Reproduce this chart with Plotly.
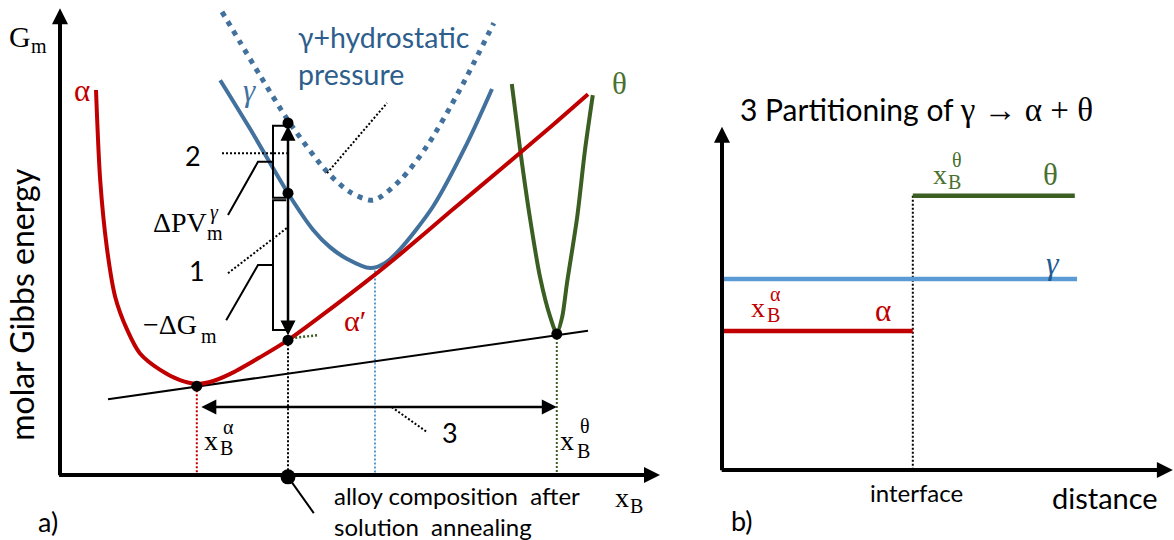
import plotly.graph_objects as go

# ---------------- panel a): molar Gibbs energy vs. composition ----------------
alpha_x = [0.060, 0.067, 0.078, 0.092, 0.112, 0.133, 0.167, 0.200, 0.228, 0.250, 0.283,
           0.333, 0.380, 0.433, 0.525, 0.567, 0.650, 0.733, 0.817, 0.880]
alpha_g = [0.828, 0.634, 0.490, 0.383, 0.312, 0.262, 0.226, 0.204, 0.196, 0.200, 0.217,
           0.253, 0.290, 0.340, 0.431, 0.475, 0.566, 0.656, 0.748, 0.819]

gamma_x = [0.267, 0.317, 0.380, 0.422, 0.450, 0.478, 0.517, 0.542, 0.567, 0.622, 0.678, 0.720]
gamma_g = [0.849, 0.744, 0.606, 0.527, 0.490, 0.465, 0.445, 0.456, 0.486, 0.578, 0.712, 0.830]

gamma_p_x = [0.270, 0.300, 0.333, 0.383, 0.445, 0.483, 0.522, 0.567, 0.612, 0.667, 0.723]
gamma_p_g = [0.996, 0.931, 0.860, 0.757, 0.652, 0.609, 0.591, 0.634, 0.708, 0.830, 0.972]

theta_x = [0.753, 0.767, 0.783, 0.800, 0.817, 0.828, 0.837, 0.845, 0.862, 0.875, 0.888]
theta_g = [0.841, 0.699, 0.555, 0.426, 0.340, 0.305, 0.340, 0.413, 0.555, 0.699, 0.817]

tangent_x = [0.080, 0.880]
tangent_g = [0.163, 0.310]

x_alpha_eq, g_alpha_eq = 0.228, 0.191
x_theta_eq, g_theta_eq = 0.828, 0.303
x_alloy = 0.380
g_alpha_prime, g_gamma_alloy, g_gamma_p_alloy = 0.290, 0.606, 0.757
x_gamma_min, g_gamma_min = 0.525, 0.440

# ---------------- panel b): composition profile across the interface ----------------
interface_pos = 0.424
alpha_dist = [0.0, 0.424]
theta_dist = [0.424, 0.784]
gamma_dist = [0.0, 0.789]
xb_alpha, xb_gamma, xb_theta = 0.302, 0.415, 0.596

# ---------------- styling ----------------
W, H = 1174, 540
RED, BLUE, LBLUE, GREEN = "#C00000", "#41719C", "#5B9BD5", "#3B5E23"
BLUE_TXT, GREEN_TXT = "#2E5E8C", "#4A7030"
SANS, MATH = "Lato", "Liberation Serif"
DOTS = "2px,2px"

fig = go.Figure()


def line(x, y, color, width, dash="solid", ref=("x", "y"), shape="linear"):
    fig.add_trace(go.Scatter(x=x, y=y, mode="lines", xaxis=ref[0], yaxis=ref[1],
                             line=dict(color=color, width=width, dash=dash, shape=shape,
                                       smoothing=0.8),
                             hoverinfo="skip", showlegend=False))


A = ("x", "y")
B = ("x2", "y2")

# drop lines from the tangent points to the composition axis
line([x_alpha_eq, x_alpha_eq], [g_alpha_eq, 0], RED, 2, DOTS)
line([x_alloy, x_alloy], [g_alpha_prime, 0], "black", 2, DOTS)
line([x_gamma_min, x_gamma_min], [g_gamma_min, 0], LBLUE, 2, DOTS)
line([x_theta_eq, x_theta_eq], [g_theta_eq, 0], GREEN, 2, DOTS)

# common tangent and the free-energy curves
line(tangent_x, tangent_g, "black", 2)
line(gamma_p_x, gamma_p_g, BLUE, 5, "5px,6px", shape="spline")
line(gamma_x, gamma_g, BLUE, 4, shape="spline")
line(theta_x, theta_g, GREEN, 4, shape="spline")
line(alpha_x, alpha_g, RED, 4, shape="spline")

# brackets for the two energy contributions
xb_, xt_, xn_ = 0.355, 0.377, 0.330
up_lo, up_hi = g_gamma_alloy - 0.010, g_gamma_p_alloy - 0.006
lo_lo, lo_hi = g_alpha_prime + 0.022, g_gamma_alloy - 0.015
up_mid, lo_mid = (up_lo + up_hi) / 2, (lo_lo + lo_hi) / 2
line([xt_, xb_, xb_, xt_, None, xb_, xn_, 0.280],
     [up_hi, up_hi, up_lo, up_lo, None, up_mid, up_mid, 0.559], "black", 2)
line([xt_, xb_, xb_, xt_, None, xb_, xn_, 0.277],
     [lo_hi, lo_hi, lo_lo, lo_lo, None, lo_mid, lo_mid, 0.333], "black", 2)

# dotted leaders to the numbered labels
line([0.270, 0.378, None, 0.280, 0.378, None, 0.445, 0.545, None, 0.553, 0.612],
     [0.692, 0.692, None, 0.434, 0.531, None, 0.649, 0.800, None, 0.146, 0.092],
     "black", 2, DOTS)
line([0.392, 0.430], [0.295, 0.301], GREEN, 2.5, DOTS)
line([x_alloy, 0.423], [-0.004, -0.082], "black", 2)

# points on the curves
fig.add_trace(go.Scatter(
    x=[x_alpha_eq, x_theta_eq, x_alloy, x_alloy, x_alloy],
    y=[g_alpha_eq, g_theta_eq, g_alpha_prime, g_gamma_alloy, g_gamma_p_alloy],
    mode="markers", marker=dict(color="black", size=11), hoverinfo="skip", showlegend=False))
fig.add_trace(go.Scatter(x=[x_alloy], y=[-0.004], mode="markers",
                         marker=dict(color="black", size=15), hoverinfo="skip",
                         showlegend=False))

# panel b) profiles
line([interface_pos, interface_pos], [xb_theta, 0], "black", 2, DOTS, ref=B)
line(gamma_dist, [xb_gamma, xb_gamma], LBLUE, 4.5, ref=B)
line(alpha_dist, [xb_alpha, xb_alpha], RED, 4.5, ref=B)
line(theta_dist, [xb_theta, xb_theta], GREEN, 4.5, ref=B)

ann = []


def arrow(x0, y0, x1, y1, ref, width, size, both=False):
    ann.append(dict(x=x1, y=y1, ax=x0, ay=y0, xref=ref[0], yref=ref[1],
                    axref=ref[0], ayref=ref[1], text="", showarrow=True,
                    arrowhead=2, arrowsize=size, arrowwidth=width, arrowcolor="black",
                    arrowside="end+start" if both else "end",
                    startarrowhead=2, startarrowsize=size, standoff=0, startstandoff=0))


# axes with arrow heads
arrow(0, -0.004, 0, 1.004, A, 4, 0.8)
arrow(-0.004, 0, 1.0, 0, A, 4, 0.8)
arrow(0, -0.004, 0, 0.746, B, 4, 0.8)
arrow(-0.004, 0, 1.002, 0, B, 4, 0.8)

# double arrows
arrow(x_alloy, g_alpha_prime + 0.007, x_alloy, g_gamma_p_alloy - 0.006, A, 2.5, 1.2, both=True)
arrow(x_alpha_eq + 0.005, 0.146, x_theta_eq, 0.146, A, 2.5, 1.2, both=True)


def text(t, x, y, ref, size, color="black", family=SANS, xanchor="center",
         align="center", angle=0, xshift=0, yshift=0):
    ann.append(dict(x=x, y=y, xref=ref[0], yref=ref[1], text=t, showarrow=False,
                    xanchor=xanchor, yanchor="middle", align=align, textangle=angle,
                    xshift=xshift, yshift=yshift,
                    font=dict(family=family, size=size, color=color)))


def sym(base, sub, sup, x, y, ref, color="black", size=28, dx=15, dy=8, sdx=17, sdy=12):
    text(base, x, y, ref, size, color, MATH)
    if sub:
        text(sub, x, y, ref, 20, color, MATH, xshift=dx, yshift=-dy)
    if sup:
        text(sup, x, y, ref, 20, color, MATH, xshift=sdx, yshift=sdy)


# panel a) labels
sym("G", "m", None, -0.0667, 0.942, A, size=30, dx=19, dy=9)
text("molar Gibbs energy", -0.0633, 0.366, A, 32, angle=-90)
text("a)", -0.02, -0.101, A, 27)
sym("α", None, None, 0.0367, 0.826, A, RED, size=31)
sym("<i>γ</i>", None, None, 0.315, 0.826, A, BLUE, size=31)
text("γ+hydrostatic<br>pressure", 0.393, 0.903, A, 28.5, BLUE_TXT, xanchor="left", align="left")
sym("θ", None, None, 0.932, 0.841, A, GREEN_TXT, size=31)
text("2", 0.222, 0.688, A, 27)
text("1", 0.228, 0.439, A, 27)
sym("ΔPV", "m", "<i>γ</i>", 0.200, 0.544, A, size=28, dx=35, dy=11, sdx=34, sdy=10)
sym("−ΔG", "m", None, 0.183, 0.323, A, size=28, dx=39, dy=11)
sym("α′", None, None, 0.492, 0.333, A, RED, size=30)
sym("x", "B", "α", 0.252, 0.075, A, dx=15, dy=8, sdx=17, sdy=13)
sym("x", "B", "θ", 0.845, 0.075, A, dx=16, dy=11, sdx=18, sdy=14)
text("3", 0.650, 0.092, A, 27)
text("alloy composition  after<br>solution  annealing", 0.453, -0.077, A, 24,
     xanchor="left", align="left")
sym("x", "B", None, 0.937, -0.049, A, dx=14, dy=8)

# panel b) labels
text("3 Partitioning of "
     "<span style=\"font-family:'Liberation Serif';font-size:33px\">γ → α + θ</span>",
     0.433, 0.783, B, 30)
sym("x", "B", None, -0.071, 0.626, B, dx=15, dy=10)
sym("x", "B", "θ", 0.484, 0.643, B, GREEN_TXT, dx=15, dy=8, sdx=17, sdy=14)
sym("θ", None, None, 0.731, 0.643, B, GREEN_TXT, size=31)
sym("<i>γ</i>", None, None, 0.736, 0.450, B, "#1F5A93", size=32)
sym("x", "B", "α", 0.080, 0.354, B, RED, dx=15, dy=8, sdx=17, sdy=13)
sym("α", None, None, 0.358, 0.346, B, RED, size=31)
text("interface", 0.433, -0.048, B, 24)
text("distance", 0.851, -0.059, B, 29)
text("b)", 0.044, -0.109, B, 27)

# axis ranges chosen so both panels sit at fixed positions on the page
LEFT_DOM, RIGHT_DOM = [0, 0.6], [0.6, 1]
xa0, xa_scale = 60, 600
ga0, ga_scale = 475, 465
xb0, xb_scale = 722, 450
cb0, cb_scale = 470, 460

hidden = dict(visible=False, showgrid=False, zeroline=False, fixedrange=True)
fig.update_layout(
    width=W, height=H, margin=dict(l=0, r=0, t=0, b=0),
    paper_bgcolor="white", plot_bgcolor="white", showlegend=False,
    xaxis=dict(domain=LEFT_DOM, range=[(0 - xa0) / xa_scale, (W * LEFT_DOM[1] - xa0) / xa_scale],
               **hidden),
    yaxis=dict(domain=[0, 1], range=[(ga0 - H) / ga_scale, ga0 / ga_scale], **hidden),
    xaxis2=dict(domain=RIGHT_DOM, anchor="y2",
                range=[(W * RIGHT_DOM[0] - xb0) / xb_scale, (W - xb0) / xb_scale], **hidden),
    yaxis2=dict(domain=[0, 1], anchor="x2", range=[(cb0 - H) / cb_scale, cb0 / cb_scale],
                **hidden),
    annotations=ann,
)

fig.write_html("out.html")
